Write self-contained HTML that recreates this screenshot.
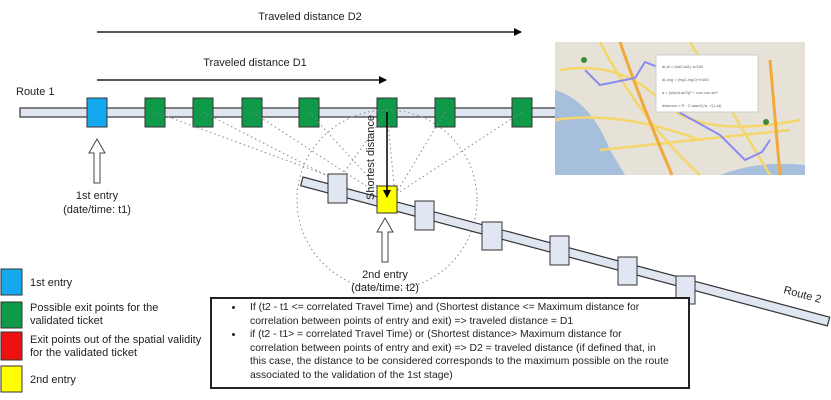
<!DOCTYPE html>
<html><head><meta charset="utf-8"><style>
body{margin:0;background:#fff;width:831px;height:400px;overflow:hidden;font-family:"Liberation Sans",sans-serif}
svg{position:absolute;left:0;top:0}
.box{position:absolute;left:210px;top:297px;width:476px;height:88px;border:2px solid #222;background:#fff;font-size:10.4px;color:#222;line-height:13.6px;white-space:nowrap;overflow:hidden}
.box ul{margin:2px 0 0 0;padding-left:32px}
.box li{padding-left:6px}
</style></head><body>
<svg width="831" height="400" viewBox="0 0 831 400" font-family="Liberation Sans, sans-serif" font-size="11" fill="#222">
<defs><marker id="ah" markerWidth="8" markerHeight="8" refX="7" refY="4" orient="auto" markerUnits="userSpaceOnUse"><path d="M0,0 L8,4 L0,8 z" fill="#000"/></marker></defs>
<text x="310" y="20" text-anchor="middle">Traveled distance D2</text>
<line x1="97" y1="32" x2="521" y2="32" stroke="#222" stroke-width="1.5" marker-end="url(#ah)"/>
<text x="255" y="66" text-anchor="middle">Traveled distance D1</text>
<line x1="97" y1="80" x2="386" y2="80" stroke="#222" stroke-width="1.5" marker-end="url(#ah)"/>
<text x="16" y="95">Route 1</text>
<rect x="20" y="108" width="540" height="9" fill="#dfe6f1" stroke="#333" stroke-width="1.2"/>
<rect x="87" y="98" width="20" height="29" fill="#14a8ee" stroke="#333"/>
<g fill="#0e9a49" stroke="#333">
<rect x="145" y="98" width="20" height="29"/><rect x="193" y="98" width="20" height="29"/><rect x="242" y="98" width="20" height="29"/><rect x="299" y="98" width="20" height="29"/><rect x="377" y="98" width="20" height="29"/><rect x="435" y="98" width="20" height="29"/><rect x="512" y="98" width="20" height="29"/></g>
<g stroke="#888" stroke-width="1" stroke-dasharray="1.5,3" fill="none">
<line x1="155" y1="112" x2="340" y2="180"/><line x1="203" y1="112" x2="345" y2="185"/><line x1="252" y1="112" x2="380" y2="195"/><line x1="309" y1="112" x2="385" y2="195"/>
<line x1="387" y1="112" x2="340" y2="178"/><line x1="387" y1="112" x2="395" y2="195"/><line x1="445" y1="112" x2="395" y2="195"/><line x1="522" y1="112" x2="395" y2="195"/>
<circle cx="387" cy="200" r="90"/></g>
<g transform="rotate(14.9 303 177)"><rect x="303" y="177" width="545" height="9" fill="#dfe6f1" stroke="#333" stroke-width="1.2"/></g>
<g fill="#e1e7f2" stroke="#333">
<rect x="328" y="174" width="19" height="29"/><rect x="415" y="201" width="19" height="29"/><rect x="482" y="222" width="20" height="28"/><rect x="550" y="236" width="19" height="29"/><rect x="618" y="257" width="19" height="28"/><rect x="676" y="276" width="19" height="28"/></g>
<rect x="377" y="186" width="20" height="27" fill="#ffff00" stroke="#333"/>
<line x1="387" y1="112" x2="387" y2="197" stroke="#000" stroke-width="1.5" marker-end="url(#ah)"/>
<text transform="translate(374 200) rotate(-90)">Shortest distance</text>
<text transform="translate(783 293) rotate(15)">Route 2</text>
<path d="M94,183 L94,153 L89,153 L97,139 L105,153 L100,153 L100,183 Z" fill="#fff" stroke="#444"/>
<text x="97" y="199" text-anchor="middle">1st entry</text>
<text x="97" y="213" text-anchor="middle">(date/time: t1)</text>
<path d="M382,262 L382,232 L377,232 L385,218 L393,232 L388,232 L388,262 Z" fill="#fff" stroke="#444"/>
<text x="385" y="278" text-anchor="middle">2nd entry</text>
<text x="385" y="291" text-anchor="middle">(date/time: t2)</text>
<rect x="1" y="269" width="21" height="26" fill="#14a8ee" stroke="#333"/>
<rect x="1" y="302" width="21" height="26" fill="#0e9a49" stroke="#333"/>
<rect x="1" y="332" width="21" height="28" fill="#ee1111" stroke="#333"/>
<rect x="1" y="366" width="21" height="26" fill="#ffff00" stroke="#333"/>
<text x="30" y="286">1st entry</text>
<text x="30" y="311">Possible exit points for the</text>
<text x="30" y="324">validated ticket</text>
<text x="30" y="343">Exit points out of the spatial validity</text>
<text x="30" y="356">for the validated ticket</text>
<text x="30" y="383">2nd entry</text>
<rect x="555" y="42" width="250" height="133" fill="#e6e2d8"/>
<path d="M555,90 Q590,100 610,150 L625,175 L555,175 Z" fill="#a5bfdc"/>
<path d="M720,175 Q760,160 805,165 L805,175 Z" fill="#a5bfdc"/>
<path d="M560,70 Q620,60 660,100 T800,120 M600,42 Q640,120 700,175 M555,120 Q620,110 700,140 M690,42 L770,175 M600,150 L790,130" stroke="#f5d66a" stroke-width="2.5" fill="none"/>
<path d="M620,42 Q640,100 672,175 M770,60 L780,175" stroke="#f2a83a" stroke-width="3" fill="none"/>
<path d="M585,70 L600,85 L635,78 L645,62 L665,70 L675,110 L720,135 L745,160 L762,152 L770,140" stroke="#8a8af0" stroke-width="2" fill="none"/>
<circle cx="584" cy="60" r="3" fill="#3a8a3a"/><circle cx="766" cy="122" r="3" fill="#3a8a3a"/>
<rect x="656" y="55" width="102" height="57" fill="#fff" stroke="#ccc"/>
<g fill="#666" font-size="4"><text x="662" y="68">dLat = (lat2-lat1)·π/180</text><text x="662" y="81">dLong = (lng2-lng1)·π/180</text><text x="662" y="94">a = (sin(dLat/2))² + cos·cos·sin²</text><text x="662" y="107">distance = R · 2·atan2(√a, √(1-a))</text></g>
</svg>
<div class="box"><ul>
<li>If (t2 - t1 &lt;= correlated Travel Time) and (Shortest distance &lt;= Maximum distance for<br>correlation between points of entry and exit) =&gt; traveled distance = D1</li>
<li>if (t2 - t1&gt; = correlated Travel Time) or (Shortest distance&gt; Maximum distance for<br>correlation between points of entry and exit) =&gt; D2 = traveled distance (if defined that, in<br>this case, the distance to be considered corresponds to the maximum possible on the route<br>associated to the validation of the 1st stage)</li>
</ul></div>
</body></html>
